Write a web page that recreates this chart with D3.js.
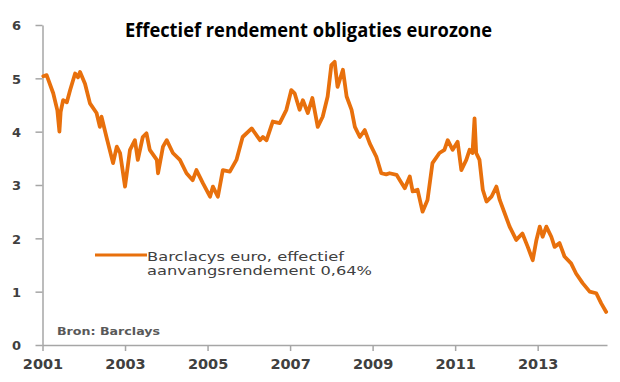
<!DOCTYPE html>
<html>
<head>
<meta charset="utf-8">
<script src="https://cdn.jsdelivr.net/npm/d3@7"></script>
<style>
  html, body { margin: 0; padding: 0; background: #fff; }
  svg { display: block; }
</style>
</head>
<body>
<svg id="chart" width="620" height="382"></svg>
<script>
// ---- data ----
const titleText = "Effectief rendement obligaties eurozone";
const seriesName = ["Barclacys euro, effectief", "aanvangsrendement 0,64%"];
const sourceText = "Bron: Barclays";
const yTicks = [0, 1, 2, 3, 4, 5, 6];
const xTicks = [2001, 2003, 2005, 2007, 2009, 2011, 2013];

const dates = [
  2001.02, 2001.10, 2001.26, 2001.36, 2001.41, 2001.44, 2001.50, 2001.59, 2001.67, 2001.79,
  2001.86, 2001.91, 2002.03, 2002.15, 2002.31, 2002.39, 2002.43, 2002.55, 2002.71, 2002.80,
  2002.88, 2003.00, 2003.12, 2003.24, 2003.31, 2003.43, 2003.52, 2003.60, 2003.77, 2003.80,
  2003.92, 2004.01, 2004.16, 2004.33, 2004.49, 2004.64, 2004.73, 2004.89, 2005.06, 2005.13,
  2005.25, 2005.37, 2005.54, 2005.70, 2005.85, 2006.07, 2006.27, 2006.34, 2006.43, 2006.58,
  2006.75, 2006.91, 2007.03, 2007.11, 2007.23, 2007.31, 2007.43, 2007.54, 2007.67, 2007.79,
  2007.91, 2008.00, 2008.08, 2008.15, 2008.28, 2008.37, 2008.49, 2008.57, 2008.69, 2008.81,
  2008.93, 2009.09, 2009.21, 2009.33, 2009.41, 2009.58, 2009.66, 2009.78, 2009.90, 2009.97,
  2010.09, 2010.21, 2010.33, 2010.45, 2010.62, 2010.74, 2010.82, 2010.94, 2011.06, 2011.15,
  2011.27, 2011.35, 2011.42, 2011.47, 2011.51, 2011.59, 2011.67, 2011.76, 2011.88, 2012.00,
  2012.08, 2012.20, 2012.32, 2012.48, 2012.63, 2012.76, 2012.88, 2012.97, 2013.05, 2013.12,
  2013.21, 2013.33, 2013.41, 2013.53, 2013.65, 2013.81, 2013.93, 2014.09, 2014.26, 2014.42,
  2014.54, 2014.66
];
const yields = [
  5.04, 5.06, 4.72, 4.40, 4.00, 4.37, 4.59, 4.55, 4.78, 5.09,
  5.02, 5.12, 4.90, 4.53, 4.35, 4.09, 4.28, 3.90, 3.41, 3.72,
  3.60, 2.97, 3.66, 3.84, 3.47, 3.90, 3.97, 3.66, 3.47, 3.22,
  3.72, 3.84, 3.60, 3.47, 3.22, 3.09, 3.28, 3.03, 2.78, 2.97,
  2.78, 3.28, 3.25, 3.47, 3.90, 4.06, 3.84, 3.90, 3.84, 4.19,
  4.16, 4.41, 4.78, 4.72, 4.41, 4.59, 4.35, 4.63, 4.09, 4.28,
  4.66, 5.25, 5.31, 4.84, 5.16, 4.66, 4.41, 4.09, 3.90, 4.03,
  3.78, 3.53, 3.22, 3.20, 3.22, 3.19, 3.09, 2.94, 3.16, 2.88,
  2.91, 2.50, 2.72, 3.41, 3.60, 3.66, 3.84, 3.66, 3.81, 3.28,
  3.47, 3.66, 3.60, 4.25, 3.60, 3.47, 2.91, 2.69, 2.78, 2.97,
  2.72, 2.47, 2.22, 1.97, 2.09, 1.84, 1.59, 1.97, 2.22, 2.03,
  2.22, 2.03, 1.84, 1.91, 1.66, 1.53, 1.34, 1.16, 1.00, 0.97,
  0.78, 0.62
];

// ---- drawing ----
const svg = d3.select("#chart");
const orange = "#E8700C";
const axisGray = "#A6A6A6";
const labelColor = "#404040";

const x = d3.scaleLinear().domain([2001, 2014.68]).range([42.5, 607]);
const y = d3.scaleLinear().domain([0, 6]).range([345, 25]);

// title
svg.append("text")
  .attr("x", 125).attr("y", 37)
  .attr("textLength", 367).attr("lengthAdjust", "spacingAndGlyphs")
  .style("font-family", "'Liberation Sans Narrow', 'Open Sans', sans-serif")
  .style("font-weight", "bold").style("font-size", "19px")
  .attr("fill", "#000")
  .text(titleText);

// y axis
const gy = svg.append("g").attr("transform", `translate(${x(2001)},0)`)
  .call(d3.axisLeft(y).tickValues(yTicks).tickFormat(d3.format("d")).tickSize(7).tickSizeOuter(0));
gy.select(".domain").attr("stroke", axisGray).attr("stroke-width", 1.5);
gy.selectAll(".tick line").attr("stroke", axisGray).attr("stroke-width", 1.5);
gy.selectAll(".tick text")
  .attr("x", -26).attr("text-anchor", "middle").attr("dy", "0.36em")
  .attr("fill", labelColor)
  .style("font-family", "'DejaVu Sans', sans-serif")
  .style("font-weight", "bold").style("font-size", "13px");

// x axis
const gx = svg.append("g").attr("transform", `translate(0,${y(0)})`)
  .call(d3.axisBottom(x).tickValues(xTicks).tickFormat(d3.format("d")).tickSize(6).tickSizeOuter(0));
gx.select(".domain").attr("stroke", axisGray).attr("stroke-width", 1.5);
gx.selectAll(".tick line").attr("stroke", axisGray).attr("stroke-width", 1.5);
gx.selectAll(".tick text")
  .attr("y", 14).attr("dy", "0.71em")
  .attr("fill", labelColor)
  .style("font-family", "'DejaVu Sans', sans-serif")
  .style("font-weight", "bold").style("font-size", "14.5px");

// series line
const data = dates.map((d, i) => ({ t: d, v: yields[i] }));
const line = d3.line().x(d => x(d.t)).y(d => y(d.v));
svg.append("path")
  .datum(data)
  .attr("d", line)
  .attr("fill", "none")
  .attr("stroke", orange)
  .attr("stroke-width", 3.8)
  .attr("stroke-linejoin", "round")
  .attr("stroke-linecap", "round");

// legend
svg.append("line")
  .attr("x1", 95).attr("x2", 147).attr("y1", 255).attr("y2", 255)
  .attr("stroke", orange).attr("stroke-width", 3);
const legendWidths = [197, 225];
seriesName.forEach((s, i) => {
  svg.append("text")
    .attr("x", 147).attr("y", 261 + i * 13.5)
    .attr("textLength", legendWidths[i]).attr("lengthAdjust", "spacingAndGlyphs")
    .attr("fill", labelColor)
    .style("font-family", "'DejaVu Sans', sans-serif")
    .style("font-size", "13px")
    .text(s);
});

// source
svg.append("text")
  .attr("x", 57).attr("y", 335)
  .attr("textLength", 103).attr("lengthAdjust", "spacingAndGlyphs")
  .attr("fill", "#595959")
  .style("font-family", "'DejaVu Sans', sans-serif")
  .style("font-weight", "bold").style("font-size", "10px")
  .text(sourceText);
</script>
</body>
</html>
